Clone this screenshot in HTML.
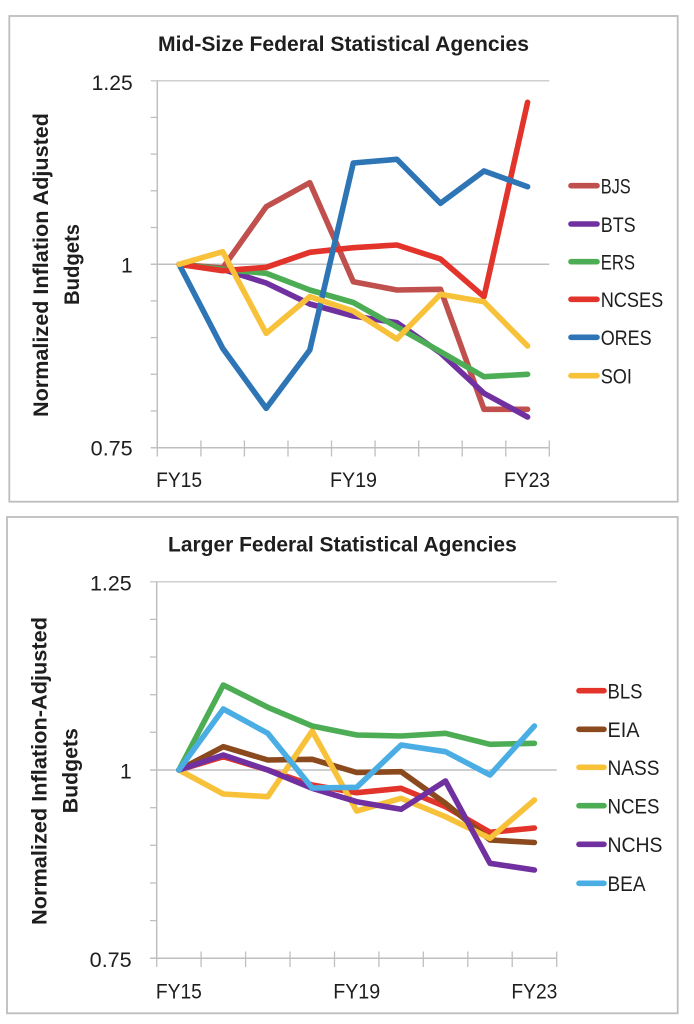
<!DOCTYPE html>
<html>
<head>
<meta charset="utf-8">
<style>
  html, body { margin: 0; padding: 0; background: #ffffff; }
  svg { display: block; }
  text { font-family: "Liberation Sans", Arial, sans-serif; fill: #1e1e1e; }
  .t { font-size: 21.5px; font-weight: bold; }
  .yt { font-size: 21px; font-weight: bold; }
  .lab { font-size: 21px; }
  .leg { font-size: 21.5px; }
  .s { fill: none; stroke-width: 5.6; stroke-linejoin: round; stroke-linecap: round; }
</style>
</head>
<body>
<svg width="694" height="1024" viewBox="0 0 694 1024" xmlns="http://www.w3.org/2000/svg">
  <rect x="0" y="0" width="694" height="1024" fill="#ffffff"/>

  <!-- ================= TOP PANEL ================= -->
  <rect x="9.3" y="16" width="668.4" height="485.7" fill="#ffffff" stroke="#bdbdbd" stroke-width="1.8"/>
  <text class="t" x="343.5" y="51" text-anchor="middle" textLength="371" lengthAdjust="spacingAndGlyphs">Mid-Size Federal Statistical Agencies</text>

  <!-- gridlines -->
  <line x1="150.7" y1="80.7" x2="549.3" y2="80.7" stroke="#cfcfcf" stroke-width="1.5"/>
  <line x1="150.7" y1="264.3" x2="549.3" y2="264.3" stroke="#bfbfbf" stroke-width="1.5"/>
  <!-- axes -->
  <line x1="157.3" y1="80.7" x2="157.3" y2="447.7" stroke="#bfbfbf" stroke-width="1.5"/>
  <line x1="150.7" y1="447.7" x2="549.3" y2="447.7" stroke="#bfbfbf" stroke-width="1.5"/>
  <!-- y minor ticks -->
  <g stroke="#bfbfbf" stroke-width="1.3">
    <line x1="150.7" y1="117.4" x2="157.3" y2="117.4"/>
    <line x1="150.7" y1="154.1" x2="157.3" y2="154.1"/>
    <line x1="150.7" y1="190.8" x2="157.3" y2="190.8"/>
    <line x1="150.7" y1="227.5" x2="157.3" y2="227.5"/>
    <line x1="150.7" y1="300.9" x2="157.3" y2="300.9"/>
    <line x1="150.7" y1="337.6" x2="157.3" y2="337.6"/>
    <line x1="150.7" y1="374.3" x2="157.3" y2="374.3"/>
    <line x1="150.7" y1="411.0" x2="157.3" y2="411.0"/>
  </g>
  <!-- x ticks -->
  <g stroke="#bfbfbf" stroke-width="1.3">
    <line x1="157.3" y1="440.5" x2="157.3" y2="456.5"/>
    <line x1="200.9" y1="440.5" x2="200.9" y2="456.5"/>
    <line x1="244.4" y1="440.5" x2="244.4" y2="456.5"/>
    <line x1="288.0" y1="440.5" x2="288.0" y2="456.5"/>
    <line x1="331.5" y1="440.5" x2="331.5" y2="456.5"/>
    <line x1="375.1" y1="440.5" x2="375.1" y2="456.5"/>
    <line x1="418.7" y1="440.5" x2="418.7" y2="456.5"/>
    <line x1="462.2" y1="440.5" x2="462.2" y2="456.5"/>
    <line x1="505.8" y1="440.5" x2="505.8" y2="456.5"/>
    <line x1="549.3" y1="440.5" x2="549.3" y2="456.5"/>
  </g>
  <!-- y labels -->
  <text class="lab" x="132.7" y="89.8" text-anchor="end" textLength="41" lengthAdjust="spacingAndGlyphs">1.25</text>
  <text class="lab" x="132.7" y="272.5" text-anchor="end">1</text>
  <text class="lab" x="132.7" y="455.5" text-anchor="end" textLength="42" lengthAdjust="spacingAndGlyphs">0.75</text>
  <!-- x labels -->
  <text class="lab" x="179.1" y="487" text-anchor="middle" textLength="46" lengthAdjust="spacingAndGlyphs">FY15</text>
  <text class="lab" x="353.5" y="487" text-anchor="middle" textLength="47" lengthAdjust="spacingAndGlyphs">FY19</text>
  <text class="lab" x="527.0" y="487" text-anchor="middle" textLength="46" lengthAdjust="spacingAndGlyphs">FY23</text>
  <!-- y title -->
  <text class="yt" transform="translate(48,265) rotate(-90)" text-anchor="middle" textLength="304" lengthAdjust="spacingAndGlyphs">Normalized Inflation Adjusted</text>
  <text class="yt" transform="translate(79,264.5) rotate(-90)" text-anchor="middle" textLength="81" lengthAdjust="spacingAndGlyphs">Budgets</text>

  <!-- series -->
  <polyline class="s" stroke="#c0504d" points="179.1,264.3 222.7,268 266.2,206.7 309.8,182.7 353.3,281.7 396.9,290 440.5,289.3 484,409.3 527.6,409.3"/>
  <polyline class="s" stroke="#7030a0" points="179.1,264.3 222.7,269.3 266.2,283 309.8,304 353.3,316 396.9,322.7 440.5,353 484,393.3 527.6,417"/>
  <polyline class="s" stroke="#4cad55" points="179.1,264.3 222.7,269.3 266.2,273.3 309.8,290 353.3,302.5 396.9,327 440.5,351.7 484,376.7 527.6,374.3"/>
  <polyline class="s" stroke="#e3342b" points="179.1,264.3 222.7,270.7 266.2,267.3 309.8,252.3 353.3,247.7 396.9,245 440.5,259 484,296.7 527.6,102.3"/>
  <polyline class="s" stroke="#2e75b6" points="179.1,264.3 222.7,348.3 266.2,408.3 309.8,350 353.3,163 396.9,159.3 440.5,203.3 484,171 527.6,186.7"/>
  <polyline class="s" stroke="#f8c13a" points="179.1,264.3 222.7,251.7 266.2,333.3 309.8,296.7 353.3,311 396.9,339 440.5,294.3 484,301.7 527.6,346"/>

  <!-- legend -->
  <g stroke-width="5.6" stroke-linecap="round">
    <line x1="571" y1="185.7" x2="597" y2="185.7" stroke="#c0504d"/>
    <line x1="571" y1="224" x2="597" y2="224" stroke="#7030a0"/>
    <line x1="571" y1="261.7" x2="597" y2="261.7" stroke="#4cad55"/>
    <line x1="571" y1="299.3" x2="597" y2="299.3" stroke="#e3342b"/>
    <line x1="571" y1="337.3" x2="597" y2="337.3" stroke="#2e75b6"/>
    <line x1="571" y1="375.7" x2="597" y2="375.7" stroke="#f8c13a"/>
  </g>
  <text class="leg" x="600.7" y="193.5" textLength="30" lengthAdjust="spacingAndGlyphs">BJS</text>
  <text class="leg" x="600.7" y="231.8" textLength="35" lengthAdjust="spacingAndGlyphs">BTS</text>
  <text class="leg" x="600.7" y="269.5" textLength="34.3" lengthAdjust="spacingAndGlyphs">ERS</text>
  <text class="leg" x="600.7" y="307.1" textLength="62.6" lengthAdjust="spacingAndGlyphs">NCSES</text>
  <text class="leg" x="600.7" y="345.1" textLength="51" lengthAdjust="spacingAndGlyphs">ORES</text>
  <text class="leg" x="600.7" y="383.5" textLength="31.3" lengthAdjust="spacingAndGlyphs">SOI</text>

  <!-- ================= BOTTOM PANEL ================= -->
  <rect x="7" y="517" width="670.7" height="496.3" fill="#ffffff" stroke="#bdbdbd" stroke-width="1.8"/>
  <text class="t" x="342.4" y="551.3" text-anchor="middle" textLength="348.7" lengthAdjust="spacingAndGlyphs">Larger Federal Statistical Agencies</text>

  <!-- gridlines -->
  <line x1="150" y1="581.7" x2="556.7" y2="581.7" stroke="#cfcfcf" stroke-width="1.5"/>
  <line x1="150" y1="770" x2="556.7" y2="770" stroke="#bfbfbf" stroke-width="1.5"/>
  <!-- axes -->
  <line x1="156.7" y1="581.7" x2="156.7" y2="958.3" stroke="#bfbfbf" stroke-width="1.5"/>
  <line x1="150" y1="958.3" x2="556.7" y2="958.3" stroke="#bfbfbf" stroke-width="1.5"/>
  <!-- y minor ticks -->
  <g stroke="#bfbfbf" stroke-width="1.3">
    <line x1="150" y1="619.4" x2="156.7" y2="619.4"/>
    <line x1="150" y1="657.0" x2="156.7" y2="657.0"/>
    <line x1="150" y1="694.7" x2="156.7" y2="694.7"/>
    <line x1="150" y1="732.3" x2="156.7" y2="732.3"/>
    <line x1="150" y1="807.7" x2="156.7" y2="807.7"/>
    <line x1="150" y1="845.3" x2="156.7" y2="845.3"/>
    <line x1="150" y1="883.0" x2="156.7" y2="883.0"/>
    <line x1="150" y1="920.6" x2="156.7" y2="920.6"/>
  </g>
  <!-- x ticks -->
  <g stroke="#bfbfbf" stroke-width="1.3">
    <line x1="156.7" y1="951.5" x2="156.7" y2="967"/>
    <line x1="201.1" y1="951.5" x2="201.1" y2="967"/>
    <line x1="245.6" y1="951.5" x2="245.6" y2="967"/>
    <line x1="290.0" y1="951.5" x2="290.0" y2="967"/>
    <line x1="334.5" y1="951.5" x2="334.5" y2="967"/>
    <line x1="378.9" y1="951.5" x2="378.9" y2="967"/>
    <line x1="423.3" y1="951.5" x2="423.3" y2="967"/>
    <line x1="467.8" y1="951.5" x2="467.8" y2="967"/>
    <line x1="512.2" y1="951.5" x2="512.2" y2="967"/>
    <line x1="556.7" y1="951.5" x2="556.7" y2="967"/>
  </g>
  <!-- y labels -->
  <text class="lab" x="131.7" y="590.3" text-anchor="end" textLength="41.7" lengthAdjust="spacingAndGlyphs">1.25</text>
  <text class="lab" x="131.7" y="778.3" text-anchor="end">1</text>
  <text class="lab" x="131.7" y="966.8" text-anchor="end" textLength="42" lengthAdjust="spacingAndGlyphs">0.75</text>
  <!-- x labels -->
  <text class="lab" x="178.9" y="998.5" text-anchor="middle" textLength="46" lengthAdjust="spacingAndGlyphs">FY15</text>
  <text class="lab" x="356.7" y="998.5" text-anchor="middle" textLength="47" lengthAdjust="spacingAndGlyphs">FY19</text>
  <text class="lab" x="534.4" y="998.5" text-anchor="middle" textLength="46" lengthAdjust="spacingAndGlyphs">FY23</text>
  <!-- y title -->
  <text class="yt" transform="translate(46.5,771) rotate(-90)" text-anchor="middle" textLength="308" lengthAdjust="spacingAndGlyphs">Normalized Inflation-Adjusted</text>
  <text class="yt" transform="translate(77.5,770.7) rotate(-90)" text-anchor="middle" textLength="85" lengthAdjust="spacingAndGlyphs">Budgets</text>

  <!-- series -->
  <polyline class="s" stroke="#e3342b" points="178.9,770 223.3,756.7 267.8,770 312.2,785 356.7,792.7 401.1,788.3 445.5,806.7 490,832.3 534.4,828"/>
  <polyline class="s" stroke="#8b4a1e" points="178.9,770 223.3,746.7 267.8,760 312.2,759.3 356.7,772.5 401.1,771.7 445.5,803.3 490,840 534.4,842.5"/>
  <polyline class="s" stroke="#f8c13a" points="178.9,770 223.3,794 267.8,796.7 312.2,731 356.7,811 401.1,798.3 445.5,816.7 490,838.3 534.4,800"/>
  <polyline class="s" stroke="#4cad55" points="178.9,770 223.3,685 267.8,707.3 312.2,726 356.7,735 401.1,736 445.5,733.3 490,744.3 534.4,743.3"/>
  <polyline class="s" stroke="#7030a0" points="178.9,770 223.3,755 267.8,770 312.2,788.3 356.7,801.7 401.1,809.3 445.5,781 490,863.3 534.4,870"/>
  <polyline class="s" stroke="#4aaee4" points="178.9,770 223.3,709 267.8,733.3 312.2,788 356.7,787.3 401.1,745 445.5,751.7 490,775 534.4,726"/>

  <!-- legend -->
  <g stroke-width="5.6" stroke-linecap="round">
    <line x1="579" y1="690.7" x2="604" y2="690.7" stroke="#e3342b"/>
    <line x1="579" y1="729.3" x2="604" y2="729.3" stroke="#8b4a1e"/>
    <line x1="579" y1="767.3" x2="604" y2="767.3" stroke="#f8c13a"/>
    <line x1="579" y1="805.7" x2="604" y2="805.7" stroke="#4cad55"/>
    <line x1="579" y1="844.3" x2="604" y2="844.3" stroke="#7030a0"/>
    <line x1="579" y1="883.3" x2="604" y2="883.3" stroke="#4aaee4"/>
  </g>
  <text class="leg" x="607.5" y="698.5" textLength="35" lengthAdjust="spacingAndGlyphs">BLS</text>
  <text class="leg" x="607.5" y="737.1" textLength="32" lengthAdjust="spacingAndGlyphs">EIA</text>
  <text class="leg" x="607.5" y="775.1" textLength="52" lengthAdjust="spacingAndGlyphs">NASS</text>
  <text class="leg" x="607.5" y="813.5" textLength="52" lengthAdjust="spacingAndGlyphs">NCES</text>
  <text class="leg" x="607.5" y="852.1" textLength="55" lengthAdjust="spacingAndGlyphs">NCHS</text>
  <text class="leg" x="607.5" y="891.1" textLength="38" lengthAdjust="spacingAndGlyphs">BEA</text>
</svg>
</body>
</html>
